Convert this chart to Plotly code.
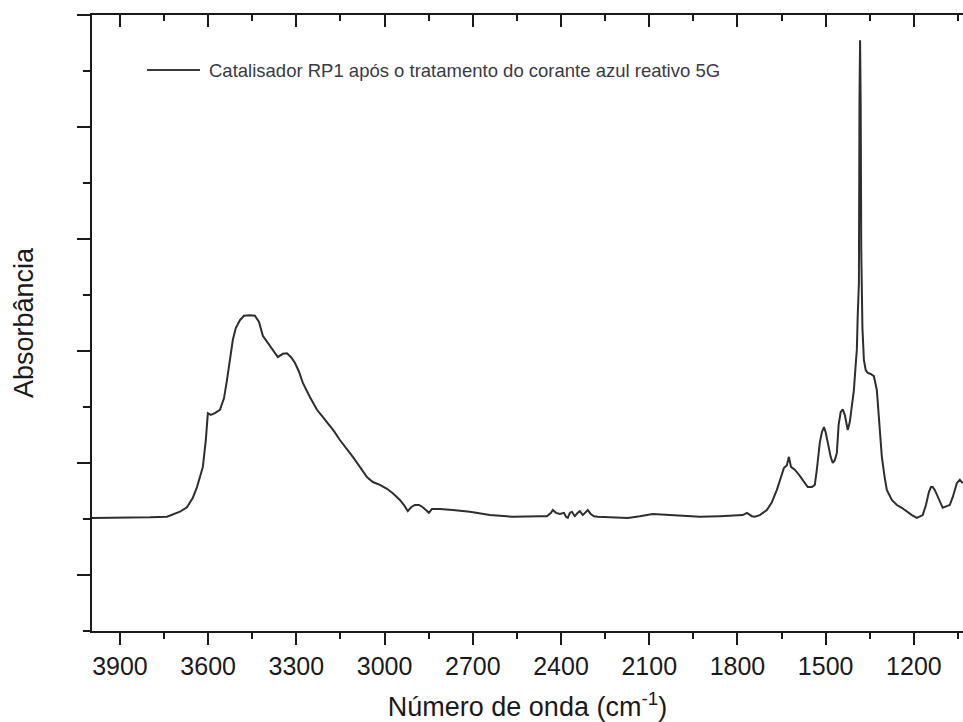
import plotly.graph_objects as go

# Wavenumber (cm-1) and absorbance (arbitrary units)
wavenumber = [
    3995, 3934, 3866, 3798, 3740, 3723, 3696, 3672, 3652, 3638, 3628, 3618, 3608, 3601,
    3591, 3577, 3560, 3546, 3536, 3526, 3516, 3506, 3492, 3478, 3458, 3441, 3427, 3414,
    3400, 3390, 3376, 3363, 3346, 3332, 3318, 3305, 3291, 3278, 3254, 3230, 3213, 3193,
    3172, 3152, 3128, 3108, 3084, 3060, 3040, 3016, 2992, 2972, 2948, 2934, 2921, 2910,
    2897, 2883, 2870, 2856, 2849, 2839, 2812, 2768, 2710, 2642, 2564, 2472, 2448, 2434,
    2428, 2417, 2404, 2390, 2383, 2377, 2370, 2363, 2353, 2343, 2336, 2326, 2316, 2309,
    2299, 2288, 2275, 2200, 2173, 2132, 2088, 2030, 1928, 1860, 1782, 1768, 1751, 1741,
    1724, 1700, 1683, 1666, 1652, 1642, 1632, 1625, 1618, 1605, 1588, 1571, 1561, 1547,
    1537, 1530, 1520, 1513, 1506, 1500, 1493, 1483, 1476, 1469, 1462, 1456, 1449, 1442,
    1435, 1428, 1425, 1418, 1411, 1404, 1398, 1394, 1391, 1387, 1385, 1383, 1381, 1379,
    1375, 1370, 1364, 1357, 1347, 1336, 1326, 1319, 1309, 1299, 1292, 1275, 1258, 1241,
    1224, 1207, 1190, 1180, 1170, 1159, 1149, 1142, 1136, 1129, 1119, 1108, 1102, 1088,
    1078, 1068, 1054, 1044, 1034,
]
absorbance = [
    0.102, 0.102, 0.103, 0.103, 0.104, 0.107, 0.113, 0.121, 0.138, 0.157, 0.175, 0.193, 0.241, 0.289,
    0.286, 0.289, 0.295, 0.316, 0.348, 0.384, 0.420, 0.441, 0.455, 0.463, 0.464, 0.463, 0.452, 0.427,
    0.416, 0.409, 0.398, 0.389, 0.395, 0.396, 0.389, 0.379, 0.363, 0.343, 0.318, 0.295, 0.284, 0.271,
    0.257, 0.241, 0.225, 0.211, 0.193, 0.175, 0.166, 0.161, 0.154, 0.146, 0.134, 0.125, 0.114, 0.121,
    0.125, 0.125, 0.121, 0.114, 0.111, 0.118, 0.118, 0.116, 0.113, 0.107, 0.104, 0.105, 0.105, 0.111,
    0.116, 0.111, 0.109, 0.111, 0.104, 0.102, 0.111, 0.113, 0.105, 0.111, 0.114, 0.107, 0.113, 0.116,
    0.109, 0.105, 0.104, 0.102, 0.102, 0.105, 0.109, 0.107, 0.104, 0.105, 0.107, 0.111, 0.105, 0.104,
    0.107, 0.116, 0.130, 0.152, 0.175, 0.191, 0.196, 0.211, 0.193, 0.188, 0.177, 0.164, 0.157, 0.157,
    0.161, 0.188, 0.236, 0.255, 0.264, 0.255, 0.236, 0.211, 0.200, 0.205, 0.218, 0.268, 0.291, 0.296,
    0.286, 0.268, 0.259, 0.273, 0.304, 0.330, 0.375, 0.402, 0.464, 0.521, 0.848, 0.955, 0.848, 0.580,
    0.441, 0.384, 0.366, 0.361, 0.359, 0.355, 0.330, 0.277, 0.211, 0.173, 0.152, 0.134, 0.125, 0.120,
    0.113, 0.107, 0.102, 0.104, 0.107, 0.125, 0.148, 0.157, 0.157, 0.152, 0.139, 0.125, 0.120, 0.123,
    0.125, 0.139, 0.164, 0.170, 0.164,
]

series_name = "Catalisador RP1 após o tratamento do corante azul reativo 5G"
x_title = "Número de onda (cm<sup>-1</sup>)"
y_title = "Absorbância"
x_range = [3995, 1033]
y_range = [-0.1, 1.0]

FONT = "Liberation Sans, Arial, sans-serif"
AX = "#1a1a1a"

fig = go.Figure()
fig.add_trace(go.Scatter(
    x=wavenumber, y=absorbance, mode="lines", name=series_name,
    line=dict(color="#2e2e2e", width=2), showlegend=False,
))
# invisible companion trace so the top (mirror) axis with inward ticks is drawn
fig.add_trace(go.Scatter(
    x=wavenumber, y=absorbance, mode="lines", xaxis="x2", yaxis="y",
    line=dict(color="rgba(0,0,0,0)", width=0), showlegend=False, hoverinfo="skip",
))

fig.update_layout(
    width=963, height=722,
    margin=dict(l=92, r=0, t=15, b=91),
    paper_bgcolor="white", plot_bgcolor="white",
    font=dict(family=FONT, color="#1a1a1a"),
    xaxis=dict(
        range=x_range, showgrid=False, zeroline=False,
        showline=True, linecolor=AX, linewidth=2,
        ticks="outside", ticklen=12, tickwidth=2, tickcolor=AX,
        tick0=0, dtick=300,
        minor=dict(ticks="outside", ticklen=6, tickwidth=2, tickcolor=AX, dtick=150, tick0=0, showgrid=False),
        tickfont=dict(size=25, color="#1a1a1a"),
        title=dict(text=x_title, font=dict(size=27, color="#1a1a1a"), standoff=20),
    ),
    xaxis2=dict(
        range=x_range, overlaying="x", side="top", anchor="y",
        showgrid=False, zeroline=False, showticklabels=False,
        showline=True, linecolor=AX, linewidth=2,
        ticks="inside", ticklen=12, tickwidth=2, tickcolor=AX,
        tick0=0, dtick=300,
        minor=dict(ticks="inside", ticklen=6, tickwidth=2, tickcolor=AX, dtick=150, tick0=0, showgrid=False),
    ),
    yaxis=dict(
        range=y_range, showgrid=False, zeroline=False,
        showline=True, linecolor=AX, linewidth=2,
        ticks="outside", ticklen=13, tickwidth=2, tickcolor=AX,
        tick0=0, dtick=0.2, showticklabels=False,
        minor=dict(ticks="outside", ticklen=7, tickwidth=2, tickcolor=AX, dtick=0.1, tick0=0, showgrid=False),
        title=dict(text=y_title, font=dict(size=27, color="#1a1a1a"), standoff=36),
    ),
)

# legend sample line + label (drawn like the original in-plot legend)
fig.add_shape(type="line", xref="paper", yref="paper",
              x0=(147 - 92) / 871, x1=(200 - 92) / 871,
              y0=(631 - 70) / 616, y1=(631 - 70) / 616,
              line=dict(color="#3a3a3a", width=2))
fig.add_annotation(xref="paper", yref="paper",
                   x=(207 - 92) / 871, y=(631 - 70) / 616,
                   xanchor="left", yanchor="middle", showarrow=False,
                   text=series_name, font=dict(size=18.5, color="#3a3a44", family=FONT))

fig.write_html("out.html")
